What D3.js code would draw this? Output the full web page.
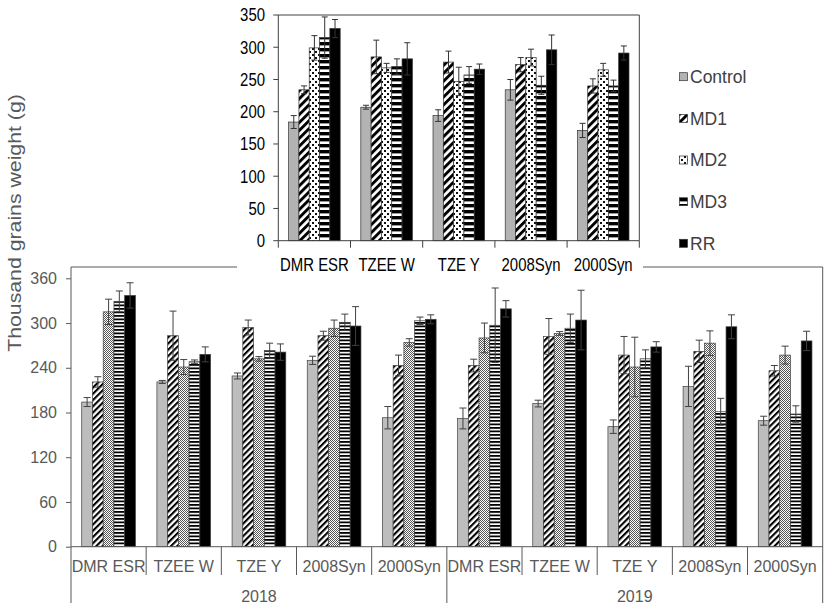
<!DOCTYPE html>
<html><head><meta charset="utf-8">
<script src="https://cdn.jsdelivr.net/npm/d3@7"></script>
<style>
body{margin:0;background:#fff}
svg{display:block;font-family:Arial,"Liberation Sans",sans-serif}
</style>
</head><body>
<svg id="c" width="829" height="610"></svg>
<script>
// ---------- data ----------
const categories = ["DMR ESR","TZEE W","TZE Y","2008Syn","2000Syn"];
const years = ["2018","2019"];
const series = ["Control","MD1","MD2","MD3","RR"];

// inset (top) chart: mean values
const insetControl = [184, 207, 194, 234, 171];
const insetMD1     = [234, 285, 277, 273, 240];
const insetMD2     = [299, 268, 247, 284, 265];
const insetMD3     = [315, 270, 257, 241, 240];
const insetRR      = [329, 282, 266, 296, 291];
const insetErrControl = [10, 3, 9, 16, 11];
const insetErrMD1     = [6, 26, 17, 11, 11];
const insetErrMD2     = [19, 7, 22, 13, 10];
const insetErrMD3     = [32, 12, 13, 14, 9];
const insetErrRR      = [14, 25, 8, 23, 11];

// main (bottom) chart: 2018 then 2019, categories in order
const mainControl = [194, 221, 229, 250, 173, 172, 192, 161, 215, 169];
const mainMD1     = [221, 283, 294, 283, 243, 243, 282, 257, 262, 236];
const mainMD2     = [315, 241, 252, 293, 274, 280, 286, 241, 273, 257];
const mainMD3     = [329, 248, 263, 301, 303, 297, 293, 252, 181, 178];
const mainRR      = [337, 258, 261, 296, 305, 319, 304, 268, 295, 276];
const mainErrControl = [6, 2, 4, 5.5, 15, 14, 4.5, 9, 27, 6];
const mainErrMD1     = [7, 33, 10, 6, 14, 8.5, 24, 25, 15, 7];
const mainErrMD2     = [17, 10, 3, 11, 5, 20, 2.5, 40, 16.5, 12];
const mainErrMD3     = [14, 2.5, 10, 11, 5, 50, 19, 12, 18, 11];
const mainErrRR      = [17, 10, 11, 26, 6, 11, 40, 7, 16, 13];

const insetTicks = [0,50,100,150,200,250,300,350];
const mainTicks = [0,60,120,180,240,300,360];
const yTitle = "Thousand grains weight (g)";

// ---------- build tables ----------
const insetVals = [insetControl, insetMD1, insetMD2, insetMD3, insetRR];
const insetErrs = [insetErrControl, insetErrMD1, insetErrMD2, insetErrMD3, insetErrRR];
const mainVals = [mainControl, mainMD1, mainMD2, mainMD3, mainRR];
const mainErrs = [mainErrControl, mainErrMD1, mainErrMD2, mainErrMD3, mainErrRR];
const mainGroups = [];
years.forEach(y => categories.forEach(c => mainGroups.push(y + "|" + c)));

const svg = d3.select("#c");
const defs = svg.append("defs");

function diagPat(id, period, thick){
  const p = defs.append("pattern").attr("id", id).attr("patternUnits","userSpaceOnUse")
    .attr("width", period).attr("height", period).attr("patternTransform","rotate(45)");
  p.append("rect").attr("width", period).attr("height", period).attr("fill","#fff");
  p.append("rect").attr("width", thick).attr("height", period).attr("fill","#000");
}
function horizPat(id, period, thick){
  const p = defs.append("pattern").attr("id", id).attr("patternUnits","userSpaceOnUse")
    .attr("width", 10).attr("height", period);
  p.append("rect").attr("width", 10).attr("height", period).attr("fill","#fff");
  p.append("rect").attr("width", 10).attr("height", thick).attr("fill","#000");
}
// top patterns
diagPat("t1", 5.6, 2.9);
{
  const p = defs.append("pattern").attr("id","t2").attr("patternUnits","userSpaceOnUse")
    .attr("width",6).attr("height",6);
  p.append("rect").attr("width",6).attr("height",6).attr("fill","#fff");
  p.append("rect").attr("x",0).attr("y",0).attr("width",2).attr("height",2).attr("fill","#111");
  p.append("rect").attr("x",3).attr("y",3).attr("width",2).attr("height",2).attr("fill","#111");
}
horizPat("t3", 6, 3.4);
// bottom patterns
diagPat("b1", 4.4, 2.1);
{
  const p = defs.append("pattern").attr("id","b2").attr("patternUnits","userSpaceOnUse")
    .attr("width",2).attr("height",2);
  p.append("rect").attr("width",2).attr("height",2).attr("fill","#fff");
  p.append("rect").attr("width",1).attr("height",1).attr("fill","#555");
  p.append("rect").attr("x",1).attr("y",1).attr("width",1).attr("height",1).attr("fill","#555");
}
horizPat("b3", 3.5, 1.8);

const topFills = ["#b3b3b3","url(#t1)","url(#t2)","url(#t3)","#000"];
const botFills = ["#bdbdbd","url(#b1)","url(#b2)","url(#b3)","#000"];

// ---------- bottom (main) chart ----------
const B = {x0:71, x1:822.7, y0:546.7, yTopFrame:267, yBottom:603};
const xb = d3.scaleBand().domain(mainGroups).range([B.x0, B.x1]).padding(0);
const bwB = xb.bandwidth(), barB = bwB/7;
const xbIn = d3.scaleBand().domain(series).range([(bwB-5*barB)/2, (bwB+5*barB)/2]).padding(0);
const yb = d3.scaleLinear().domain([0,360]).range([B.y0, 278.3]);
const lineC = "#595959", textC = "#595959";

const gB = svg.append("g");
// frame
gB.append("path").attr("d", `M${B.x0},${B.yBottom}V${B.yTopFrame}H${B.x1}V${B.yBottom}`)
  .attr("fill","none").attr("stroke",lineC).attr("stroke-width",1);
// y axis ticks
const yAxB = d3.axisLeft(yb).tickValues(mainTicks).tickSize(5).tickPadding(9).tickFormat(d3.format("d"));
const gyB = gB.append("g").attr("transform",`translate(${B.x0},0)`).call(yAxB);
gyB.select(".domain").remove();
gyB.selectAll("line").attr("stroke",lineC);
gyB.selectAll("text").attr("fill",textC).style("font-size","16px").style("font-family","Arial,'Liberation Sans',sans-serif");
// bars
mainGroups.forEach((g, gi) => {
  series.forEach((s, si) => {
    const v = mainVals[si][gi], e = mainErrs[si][gi];
    const x = xb(g) + xbIn(s);
    gB.append("rect").attr("x", x).attr("y", yb(v)).attr("width", xbIn.bandwidth())
      .attr("height", yb(0)-yb(v)).attr("fill", botFills[si])
      .attr("stroke","#404040").attr("stroke-width",0.7);
    const cx = x + xbIn.bandwidth()/2, cw = 3.5;
    gB.append("path").attr("d",
      `M${cx},${yb(v-e)}V${yb(v+e)}M${cx-cw},${yb(v+e)}H${cx+cw}M${cx-cw},${yb(v-e)}H${cx+cw}`)
      .attr("stroke","#404040").attr("stroke-width",1).attr("fill","none");
  });
});
// x axis line and separators
gB.append("line").attr("x1",B.x0).attr("x2",B.x1).attr("y1",B.y0).attr("y2",B.y0).attr("stroke",lineC);
mainGroups.forEach((g, gi) => {
  if (gi > 0 && gi % 5 !== 0) {
    gB.append("line").attr("x1",xb(g)).attr("x2",xb(g)).attr("y1",B.y0).attr("y2",575).attr("stroke",lineC);
  }
});
gB.append("line").attr("x1",xb(mainGroups[5])).attr("x2",xb(mainGroups[5]))
  .attr("y1",B.y0).attr("y2",B.yBottom).attr("stroke",lineC);
gB.selectAll("text.cat").data(mainGroups).join("text").attr("class","cat")
  .attr("x", d => xb(d) + bwB/2).attr("y", 571.5).attr("text-anchor","middle")
  .attr("fill",textC).style("font-size","16px").text(d => d.split("|")[1]);
gB.selectAll("text.yr").data(years).join("text").attr("class","yr")
  .attr("x", (d,i) => xb(mainGroups[i*5]) + 2.5*bwB).attr("y", 601.5).attr("text-anchor","middle")
  .attr("fill",textC).style("font-size","16px").text(d => d);
// y title
gB.append("text").attr("transform","translate(21,223) rotate(-90) scale(1.12,1)")
  .attr("text-anchor","middle").attr("fill",textC).style("font-size","19px").text(yTitle);

// ---------- inset (top) chart ----------
const T = {x0:278.3, x1:639.3, y0:240.7, yTop:15};
svg.append("rect").attr("x",237).attr("y",0).attr("width",406).attr("height",279).attr("fill","#fff");
const gT = svg.append("g");
const xt = d3.scaleBand().domain(categories).range([T.x0, T.x1]).padding(0);
const bwT = xt.bandwidth(), barT = bwT/7;
const xtIn = d3.scaleBand().domain(series).range([(bwT-5*barT)/2, (bwT+5*barT)/2]).padding(0);
const yt = d3.scaleLinear().domain([0,350]).range([T.y0, T.yTop]);
const lineT = "#404040";

gT.append("path").attr("d",`M${T.x0},${T.y0}V${T.yTop}H${T.x1}V${T.y0}`)
  .attr("fill","none").attr("stroke",lineT).attr("stroke-width",1);
gT.selectAll("line.yt").data(insetTicks).join("line").attr("class","yt")
  .attr("x1",T.x0-5).attr("x2",T.x0).attr("y1",d=>yt(d)).attr("y2",d=>yt(d)).attr("stroke",lineT);
gT.selectAll("text.yt").data(insetTicks).join("text").attr("class","yt")
  .attr("transform", d => `translate(265,${yt(d)}) scale(0.83,1)`)
  .attr("text-anchor","end").attr("dy","0.35em").attr("fill","#000").style("font-size","18px")
  .text(d => d);

categories.forEach((c, ci) => {
  series.forEach((s, si) => {
    const v = insetVals[si][ci], e = insetErrs[si][ci];
    const x = xt(c) + xtIn(s);
    gT.append("rect").attr("x", x).attr("y", yt(v)).attr("width", xtIn.bandwidth())
      .attr("height", yt(0)-yt(v)).attr("fill", topFills[si])
      .attr("stroke","#333").attr("stroke-width",0.7);
    const cx = x + xtIn.bandwidth()/2, cw = 3;
    gT.append("path").attr("d",
      `M${cx},${yt(v-e)}V${yt(v+e)}M${cx-cw},${yt(v+e)}H${cx+cw}M${cx-cw},${yt(v-e)}H${cx+cw}`)
      .attr("stroke","#333").attr("stroke-width",1).attr("fill","none");
  });
});
gT.append("line").attr("x1",T.x0).attr("x2",T.x1).attr("y1",T.y0).attr("y2",T.y0).attr("stroke",lineT);
const sepT = categories.map(c => xt(c)).concat([T.x1]);
gT.selectAll("line.sep").data(sepT).join("line").attr("class","sep")
  .attr("x1",d=>d).attr("x2",d=>d).attr("y1",T.y0).attr("y2",T.y0+7).attr("stroke",lineT);
gT.selectAll("text.cat").data(categories).join("text").attr("class","cat")
  .attr("transform", d => `translate(${xt(d)+bwT/2},271) scale(0.83,1)`)
  .attr("text-anchor","middle").attr("fill","#000").style("font-size","18px").text(d => d);

// ---------- legend ----------
const legY = d3.scalePoint().domain(series).range([76.7, 243.3]);
const gL = svg.append("g");
series.forEach((s, si) => {
  gL.append("rect").attr("x",679.5).attr("y",legY(s)-4).attr("width",8).attr("height",8)
    .attr("fill", topFills[si]).attr("stroke","#333").attr("stroke-width",0.7);
  gL.append("text").attr("x",690).attr("y",legY(s)).attr("dy","0.36em")
    .attr("fill","#404040").style("font-size","17.5px").text(s);
});
</script>
</body></html>
